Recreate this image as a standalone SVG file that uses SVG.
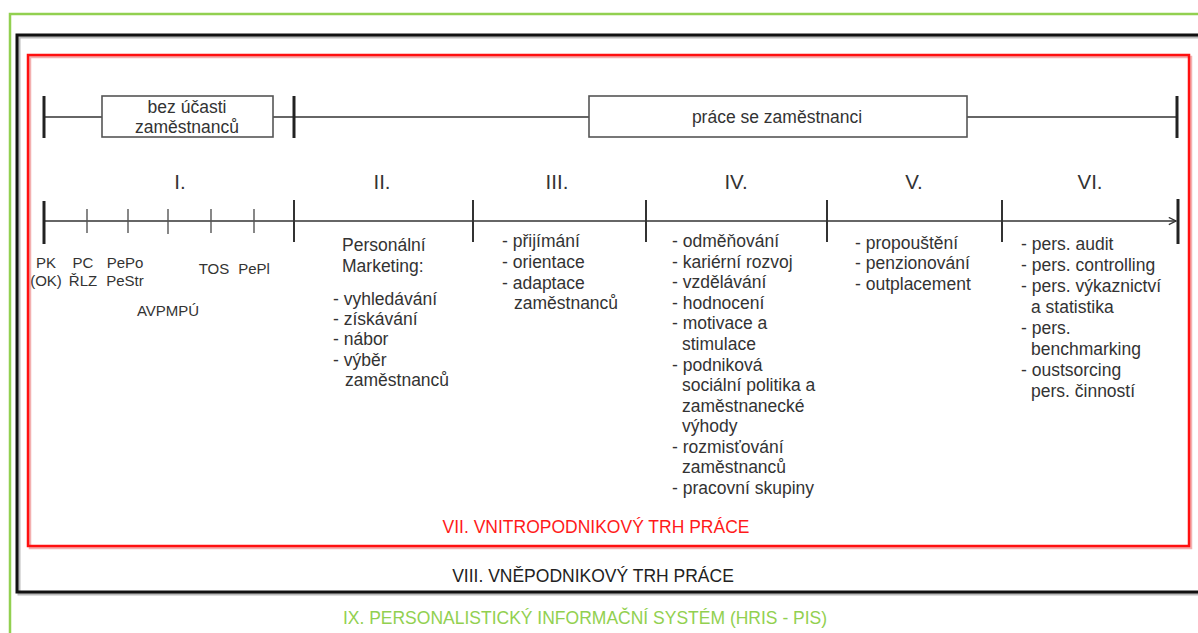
<svg xmlns="http://www.w3.org/2000/svg" width="1198" height="633" viewBox="0 0 1198 633">
<style>
text{font-family:"Liberation Sans",Arial,sans-serif;fill:#333;font-size:17.5px}
.num{font-size:20.5px;text-anchor:middle}
.lbl{font-size:15px}
.mid{text-anchor:middle}
.ax{stroke:#333;stroke-width:1.6;fill:none}
.big{stroke:#222;stroke-width:3}
.sm{stroke:#555;stroke-width:1.4}
.box{fill:#fff;stroke:#555;stroke-width:1.6}
</style>
<defs>
<marker id="arr" viewBox="0 0 10 10" refX="9" refY="5" markerWidth="9" markerHeight="9" orient="auto" markerUnits="userSpaceOnUse"><path d="M1,1 L9,5 L1,9" fill="none" stroke="#333" stroke-width="1.4"/></marker>
</defs>
<rect width="1198" height="633" fill="#fff"/>
<g id="frame-hris">
<rect x="10" y="14" width="1200" height="640" fill="none" stroke="#92d050" stroke-width="2.5"/>
<text x="585" y="624" class="mid" style="fill:#92d050">IX. PERSONALISTICKÝ INFORMAČNÍ SYSTÉM (HRIS - PIS)</text>
</g>
<g id="frame-external">
<rect x="19" y="37" width="1200" height="557" fill="none" stroke="#bbb" stroke-width="3"/>
<rect x="17" y="35" width="1200" height="557" fill="none" stroke="#111" stroke-width="3"/>
<text x="593" y="582" class="mid" style="fill:#222">VIII. VNĚPODNIKOVÝ TRH PRÁCE</text>
</g>
<g id="frame-internal">
<rect x="30" y="57" width="1161" height="491" fill="none" stroke="#f3b0b0" stroke-width="2.5"/>
<rect x="28" y="55" width="1161" height="491" fill="none" stroke="#ff1010" stroke-width="2.5"/>
<text x="596" y="533" class="mid" style="fill:#ff1a1a">VII. VNITROPODNIKOVÝ TRH PRÁCE</text>
</g>
<g id="connectors">
<line x1="44" y1="117" x2="1177" y2="117" class="ax"/>
<line x1="44" y1="96" x2="44" y2="138" class="big"/>
<line x1="294" y1="96" x2="294" y2="138" class="big"/>
<line x1="1177" y1="96" x2="1177" y2="138" class="big"/>
<line x1="44" y1="221" x2="1176" y2="221" class="ax" marker-end="url(#arr)"/>
<line x1="44" y1="201" x2="44" y2="244" class="big"/>
<line x1="294" y1="200" x2="294" y2="242" class="ax" style="stroke-width:2"/>
<line x1="473" y1="200" x2="473" y2="242" class="ax" style="stroke-width:2"/>
<line x1="646" y1="200" x2="646" y2="242" class="ax" style="stroke-width:2"/>
<line x1="827" y1="200" x2="827" y2="242" class="ax" style="stroke-width:2"/>
<line x1="1002" y1="200" x2="1002" y2="242" class="ax" style="stroke-width:2"/>
<line x1="1178" y1="199" x2="1178" y2="244" class="big"/>
<line x1="87" y1="209" x2="87" y2="233" class="sm"/>
<line x1="128" y1="209" x2="128" y2="233" class="sm"/>
<line x1="168" y1="209" x2="168" y2="234" class="sm"/>
<line x1="211" y1="209" x2="211" y2="233" class="sm"/>
<line x1="254" y1="209" x2="254" y2="233" class="sm"/>
</g>
<g id="box-bez">
<rect x="102" y="96" width="171" height="41" class="box"/>
<text x="187" y="113" class="mid">bez účasti</text>
<text x="187" y="133" class="mid">zaměstnanců</text>
</g>
<g id="box-prace">
<rect x="589" y="96" width="378" height="41" class="box"/>
<text x="777" y="123" class="mid">práce se zaměstnanci</text>
</g>
<g id="phase-I">
<text x="180" y="189" class="num">I.</text>
<text x="46" y="268" class="lbl mid">PK</text>
<text x="46" y="286" class="lbl mid">(OK)</text>
<text x="83" y="268" class="lbl mid">PC</text>
<text x="83" y="286" class="lbl mid">ŘLZ</text>
<text x="125" y="268" class="lbl mid">PePo</text>
<text x="125" y="286" class="lbl mid">PeStr</text>
<text x="214" y="274" class="lbl mid">TOS</text>
<text x="254" y="274" class="lbl mid">PePl</text>
<text x="168" y="316" class="lbl mid">AVPMPÚ</text>
</g>
<g id="phase-II">
<text x="382" y="189" class="num">II.</text>
<text x="342" y="251">Personální</text>
<text x="342" y="272">Marketing:</text>
<text x="333" y="305">- vyhledávání</text>
<text x="333" y="325">- získávání</text>
<text x="333" y="345">- nábor</text>
<text x="333" y="366">- výběr</text>
<text x="345" y="386">zaměstnanců</text>
</g>
<g id="phase-III">
<text x="557" y="189" class="num">III.</text>
<text x="502" y="247">- přijímání</text>
<text x="502" y="268">- orientace</text>
<text x="502" y="289">- adaptace</text>
<text x="514" y="309">zaměstnanců</text>
</g>
<g id="phase-IV">
<text x="736" y="189" class="num">IV.</text>
<text x="672" y="247">- odměňování</text>
<text x="672" y="268">- kariérní rozvoj</text>
<text x="672" y="288">- vzdělávání</text>
<text x="672" y="309">- hodnocení</text>
<text x="672" y="329">- motivace a</text>
<text x="682" y="350">stimulace</text>
<text x="672" y="371">- podniková</text>
<text x="682" y="391">sociální politika a</text>
<text x="682" y="412">zaměstnanecké</text>
<text x="682" y="432">výhody</text>
<text x="672" y="453">- rozmisťování</text>
<text x="682" y="473">zaměstnanců</text>
<text x="672" y="494">- pracovní skupiny</text>
</g>
<g id="phase-V">
<text x="914" y="189" class="num">V.</text>
<text x="855" y="249">- propouštění</text>
<text x="855" y="269">- penzionování</text>
<text x="855" y="290">- outplacement</text>
</g>
<g id="phase-VI">
<text x="1090" y="189" class="num">VI.</text>
<text x="1021" y="250">- pers. audit</text>
<text x="1021" y="271">- pers. controlling</text>
<text x="1021" y="292">- pers. výkaznictví</text>
<text x="1031" y="313">a statistika</text>
<text x="1021" y="334">- pers.</text>
<text x="1031" y="355">benchmarking</text>
<text x="1021" y="376">- oustsorcing</text>
<text x="1031" y="397">pers. činností</text>
</g>
</svg>
